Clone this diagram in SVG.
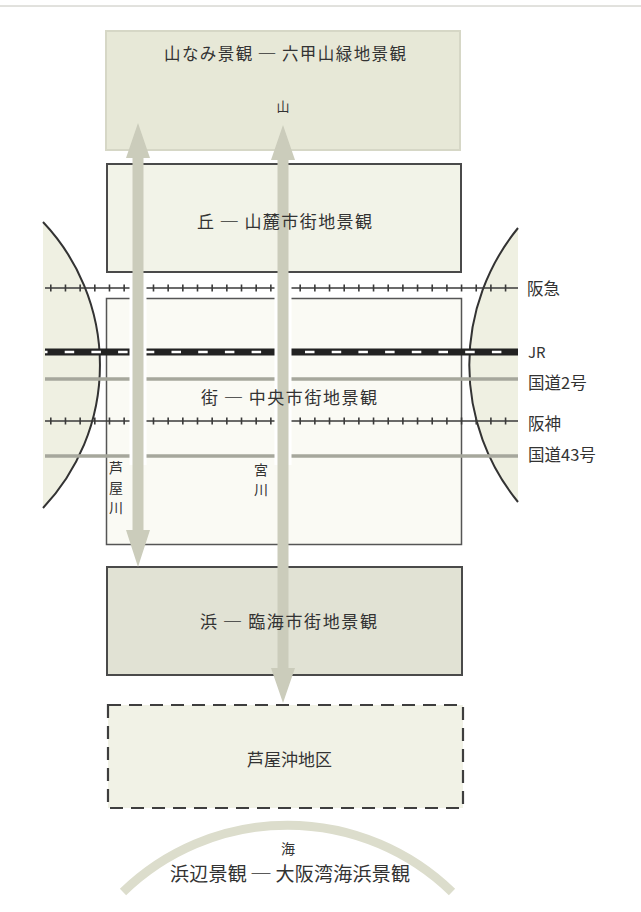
<svg xmlns="http://www.w3.org/2000/svg" width="641" height="912" viewBox="0 0 641 912">
<defs>
<style>
text{font-family:"Noto Sans CJK JP","Noto Sans",sans-serif;fill:#333}
.t17{font-size:17px}
.lbl{font-size:16.5px}
.vt{font-size:14px;text-anchor:middle}
.c{text-anchor:middle}
.box{stroke:#4a4a4a;stroke-width:2}
.rail{stroke:#3a3a3a;stroke-width:1.4}
.tick{stroke:#3a3a3a;stroke-width:7;stroke-dasharray:1.6 13.07}
.road{stroke:#a6a79c;stroke-width:3.5}
.arrow{fill:#cbccbb}
.halo{fill:#ffffff}
</style>
</defs>
<rect x="0" y="0" width="641" height="912" fill="#ffffff"/>
<line x1="0" y1="6" x2="641" y2="6" stroke="#c4c4bc" stroke-width="1"/>

<g id="lens-left"><path d="M43,222 A208,208 0 0 1 43,508 Z" fill="#eff0e2"/><path d="M43,222 A208,208 0 0 1 43,508" fill="none" stroke="#333" stroke-width="2"/></g>
<g id="lens-right"><path d="M518,228 A217,217 0 0 0 518,502 Z" fill="#eff0e2"/><path d="M518,228 A217,217 0 0 0 518,502" fill="none" stroke="#333" stroke-width="2"/></g>

<g id="node-yama">
<rect x="106" y="31" width="354" height="119" fill="#e7e8d7" stroke="#d6d7c6" stroke-width="2"/>
</g>
<g id="node-oka">
<rect class="box" x="107" y="164" width="354" height="108" fill="#f2f3e8"/>
</g>
<g id="node-machi">
<rect x="106.5" y="298.5" width="355" height="246" fill="#fafaf4" stroke="#555" stroke-width="1.5"/>
</g>
<g id="node-hama">
<rect class="box" x="107" y="567" width="355" height="108" fill="#e1e2d4"/>
</g>
<g id="node-oki">
<rect x="108" y="705" width="355" height="103" fill="#f1f2e6" stroke="#3e3e3e" stroke-width="2.2" stroke-dasharray="13 8"/>
</g>
<g id="node-umi">
<path d="M123,892 A236,236 0 0 1 452,892" fill="none" stroke="#dcddcc" stroke-width="9"/>
</g>

<g id="lines">
<g id="hankyu"><line class="rail" x1="45" y1="288" x2="518" y2="288"/><line class="tick" x1="50" y1="288" x2="512" y2="288"/></g>
<g id="jr"><line x1="45" y1="352" x2="518" y2="352" stroke="#222" stroke-width="7"/><line x1="45" y1="352" x2="518" y2="352" stroke="#ffffff" stroke-width="2.6" stroke-dasharray="9.5 17.2" stroke-dashoffset="7"/></g>
<line id="route2" class="road" x1="45" y1="379" x2="518" y2="379"/>
<g id="hanshin"><line class="rail" x1="45" y1="421" x2="518" y2="421"/><line class="tick" x1="50" y1="421" x2="512" y2="421"/></g>
<line id="route43" class="road" x1="45" y1="456" x2="518" y2="456"/>
</g>

<g id="connectors">
<rect class="halo" x="129.5" y="279" width="17" height="186"/>
<rect class="halo" x="274.5" y="279" width="17" height="186"/>
<polygon id="ashiya-river" class="arrow" points="138,123 150,158 143.5,158 143.5,530 150,530 138,567 126,530 132.5,530 132.5,158 126,158"/>
<polygon id="miya-river" class="arrow" points="283,125 295,160 288.5,160 288.5,668 295,668 283,703 271,668 277.5,668 277.5,160 271,160"/>
</g>

<g id="texts">
<text x="285" y="60" font-size="16.5" class="c" textLength="242" lengthAdjust="spacing">山なみ景観 ─ 六甲山緑地景観</text>
<text x="283" y="111" font-size="13" class="c">山</text>
<text x="284.5" y="228" class="t17 c" textLength="175" lengthAdjust="spacing">丘 ─ 山麓市街地景観</text>
<text x="289" y="404" class="t17 c" textLength="176" lengthAdjust="spacing">街 ─ 中央市街地景観</text>
<text x="288.5" y="628" class="t17 c" textLength="177" lengthAdjust="spacing">浜 ─ 臨海市街地景観</text>
<text x="289.5" y="766" class="t17 c">芦屋沖地区</text>
<text x="288" y="854" font-size="14" class="c">海</text>
<text x="290" y="881" font-size="19" class="c" textLength="240" lengthAdjust="spacing">浜辺景観 ─ 大阪湾海浜景観</text>
<text x="527" y="295" class="lbl">阪急</text>
<text x="528" y="358" font-size="15">JR</text>
<text x="528" y="389" class="lbl">国道2号</text>
<text x="528" y="430" class="lbl">阪神</text>
<text x="528" y="461" class="lbl">国道43号</text>
<text x="116" y="473" class="vt">芦</text>
<text x="116" y="493" class="vt">屋</text>
<text x="116" y="513" class="vt">川</text>
<text x="261" y="475" class="vt">宮</text>
<text x="261" y="495" class="vt">川</text>
</g>
</svg>
